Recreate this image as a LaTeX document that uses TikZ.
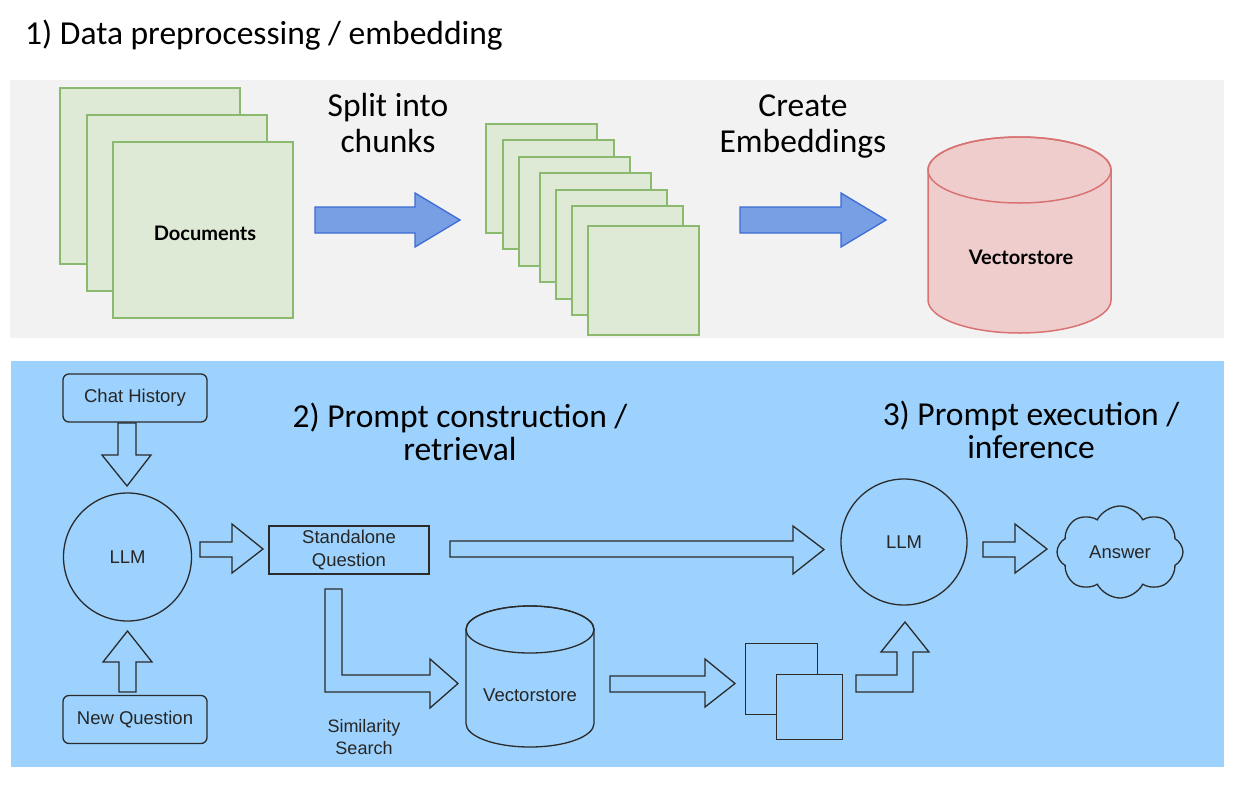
\documentclass[tikz,border=0pt]{standalone}
\usepackage{fontspec}
\setmainfont{Carlito}
\newfontfamily\latofont{Lato}
\newfontfamily\helvfont{Liberation Sans}
\usetikzlibrary{shapes.symbols}
\definecolor{graypanel}{HTML}{F2F2F2}
\definecolor{bluepanel}{HTML}{9CD2FD}
\definecolor{greenfill}{HTML}{DEE9D6}
\definecolor{greenline}{HTML}{8BBA6E}
\definecolor{arrowfill}{HTML}{789FE3}
\definecolor{arrowline}{HTML}{3D6BD6}
\definecolor{redfill}{HTML}{F0CDCD}
\definecolor{redline}{HTML}{D97373}
\definecolor{inkline}{HTML}{2B2B2B}
\begin{document}
\begin{tikzpicture}[x=1pt,y=-1pt,
  bigtext/.style={font=\fontsize{33.5}{36}\selectfont, align=center, inner sep=0pt},
  bigtextb/.style={font=\fontsize{33.5}{33}\selectfont, align=center, inner sep=0pt},
  boldlabel/.style={font=\latofont\bfseries\fontsize{20}{24}\selectfont, inner sep=0pt},
  sheet/.style={draw=greenline, fill=greenfill, line width=1.5pt, inner sep=0pt, anchor=north west},
  blockarrow/.style={draw=arrowline, fill=arrowfill, line width=1.3pt, line join=miter},
  hollow/.style={draw=inkline, line width=1.3pt, fill=bluepanel},
  smalltext/.style={font=\helvfont\fontsize{18.5}{23}\selectfont, text=black!85, align=center},
  roundbox/.style={draw=inkline, line width=1.3pt, rounded corners=6pt, minimum width=144pt, minimum height=48pt, inner sep=0pt, smalltext},
  plainbox/.style={draw=inkline, line width=1.3pt, minimum width=160pt, minimum height=48pt, inner sep=0pt, smalltext},
  llmcircle/.style={draw=inkline, line width=1.3pt, circle, minimum size=128pt, inner sep=0pt, smalltext},
  square/.style={draw=inkline, line width=1.3pt, fill=bluepanel, inner sep=0pt, anchor=north west}
]
\useasboundingbox (0,0) rectangle (1240,788);
\fill[white] (0,0) rectangle (1240,788);
\fill[graypanel] (10,80) rectangle (1224,338);
\fill[bluepanel] (11,361) rectangle (1224,767);

% ---------- Section 1 ----------
\node[anchor=base west, font=\fontsize{33.5}{36}\selectfont, inner sep=0pt] (title1) at (25,44) {1) Data preprocessing / embedding};

\node[sheet, minimum width=180pt, minimum height=176pt] (doc1) at (59,87) {};
\node[sheet, minimum width=180pt, minimum height=176pt] (doc2) at (86,114) {};
\node[sheet, minimum width=180pt, minimum height=176pt] (doc3) at (112,141) {};
\node[boldlabel] (doclabel) at (205,233) {Documents};

\draw[blockarrow] (315,207) -- (415,207) -- (415,193) -- (460,220) -- (415,247) -- (415,233) -- (315,233) -- cycle;
\node[bigtext] (split) at (388,123) {Split into\\chunks};

\foreach \n/\x/\y in {1/485/123, 2/502/139, 3/518/156, 4/539/172, 5/555/189, 6/571/205, 7/587/225}{
  \node[sheet, minimum width=111pt, minimum height=109pt] (chunk\n) at (\x,\y) {};
}

\draw[blockarrow] (740,207) -- (841,207) -- (841,193) -- (886,220) -- (841,247) -- (841,233) -- (740,233) -- cycle;
\node[bigtext] (embed) at (803,127) {Create\\Embeddings};

% top vectorstore cylinder
\draw[draw=redline, fill=redfill, line width=1.5pt]
  (928,170) -- (928,300) arc[start angle=180, end angle=0, x radius=91.5, y radius=33]
  -- (1111,170) arc[start angle=0, end angle=-180, x radius=91.5, y radius=33] -- cycle;
\draw[draw=redline, line width=1.5pt] (1019.5,170) ellipse[x radius=91.5, y radius=33];
\node[boldlabel] (vs1) at (1021,257) {Vectorstore};

% ---------- Section 2 / 3 ----------
\node[bigtextb] (title2) at (460,432) {2) Prompt construction /\\retrieval};
\node[bigtextb] (title3) at (1031,430) {3) Prompt execution /\\inference};

\node[roundbox] (chat) at (135,398) {Chat History};
\node[roundbox] (newq) at (135,719.5) {New Question};
\node[llmcircle] (llm1) at (127.5,557) {LLM};
\node[plainbox] (sq) at (349,550) {Standalone\\Question};
\node[llmcircle, minimum size=126pt] (llm2) at (904,542) {LLM};
\node[cloud, cloud puffs=8, cloud puff arc=125, aspect=1.35, draw=inkline, line width=1.3pt,
      minimum width=126pt, minimum height=92pt, inner sep=0pt, smalltext] (answer) at (1120,552) {Answer};

% hollow arrows
\draw[hollow] (118,423) -- (136,423) -- (136,455) -- (151,455) -- (127,486) -- (102,455) -- (118,455) -- cycle;
\draw[hollow] (119,692) -- (136,692) -- (136,662) -- (152,662) -- (127.5,631) -- (103,662) -- (119,662) -- cycle;
\draw[hollow] (200,542) -- (232,542) -- (232,524) -- (263,549) -- (232,573) -- (232,557) -- (200,557) -- cycle;
\draw[hollow] (450,541) -- (793,541) -- (793,526) -- (824,549.5) -- (793,574) -- (793,557) -- (450,557) -- cycle;
\draw[hollow] (983,542) -- (1015,542) -- (1015,524) -- (1047,549) -- (1015,573) -- (1015,557) -- (983,557) -- cycle;
\draw[hollow] (325,589) -- (342,589) -- (342,675) -- (430,675) -- (430,659) -- (458,683.5) -- (430,708) -- (430,692) -- (325,692) -- cycle;
\node[smalltext, font=\helvfont\fontsize{18}{22}\selectfont] (simlabel) at (364,737) {Similarity\\Search};

% bottom vectorstore
\draw[draw=inkline, line width=1.3pt, fill=bluepanel]
  (466,629.5) -- (466,723.5) arc[start angle=180, end angle=0, x radius=64, y radius=23.5]
  -- (594,629.5) arc[start angle=0, end angle=-180, x radius=64, y radius=23.5] -- cycle;
\draw[draw=inkline, line width=1.3pt] (530,629.5) ellipse[x radius=64, y radius=23.5];
\node[smalltext] (vs2) at (530,695) {Vectorstore};

\draw[hollow] (610,676) -- (705,676) -- (705,659) -- (735,683.5) -- (705,707) -- (705,692) -- (610,692) -- cycle;

\node[square, minimum width=72pt, minimum height=71pt] (res1) at (745,643) {};
\node[square, minimum width=66pt, minimum height=65pt] (res2) at (776,674) {};

\draw[hollow] (856,675) -- (897,675) -- (897,652) -- (881,652) -- (905,622) -- (929,652) -- (913,652) -- (913,692) -- (856,692) -- cycle;
\end{tikzpicture}
\end{document}
